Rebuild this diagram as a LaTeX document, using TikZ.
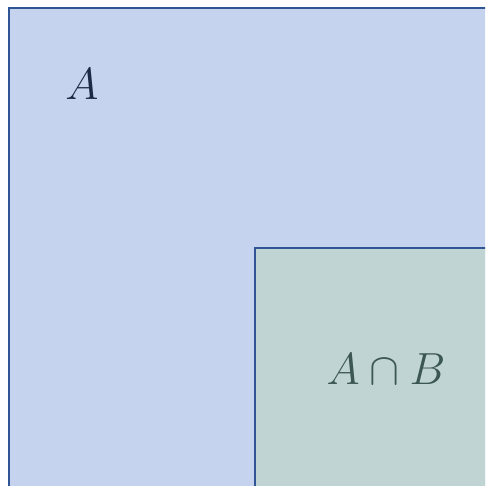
\RequirePackage{fix-cm}
\documentclass[tikz,border=0pt]{standalone}
\usepackage{amsmath,amssymb}
\usepackage{tikz}
\usetikzlibrary{positioning}
\definecolor{setfillA}{HTML}{C5D3EE}
\definecolor{setfillAB}{HTML}{C0D5D3}
\definecolor{setedge}{HTML}{2F5597}
\definecolor{labelA}{HTML}{1B2A47}
\definecolor{labelAB}{HTML}{3B5654}
\tikzset{
  setbox/.style={line width=2.5pt, draw=setedge},
  setlabel/.style={inner sep=0pt, font=\fontsize{45}{50}\selectfont}
}

\begin{document}
\begin{tikzpicture}[x=1pt, y=-1pt]
  \useasboundingbox (0,0) rectangle (485,486);
  \clip (0,0) rectangle (485,486);
  \fill[white] (0,0) rectangle (485,486);
  % sets
  \draw[setbox, fill=setfillA]  (9,8) rectangle (500,500);
  \draw[setbox, fill=setfillAB] (255,248) rectangle (500,500);
  % labels
  \node[setlabel, labelA]  (labA)  at (82,84)   {$A$};
  \node[setlabel, labelAB] (labAB) at (386,369) {$A \cap B$};
\end{tikzpicture}
\end{document}
